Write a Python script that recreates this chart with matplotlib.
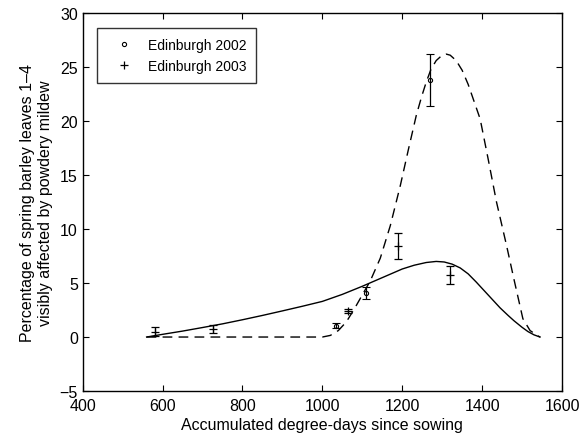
import matplotlib.pyplot as plt
from matplotlib.lines import Line2D

plt.rcParams['font.family'] = ['Liberation Sans', 'DejaVu Sans']

# observations (mean, half-width of error bar)
x_2002 = [1035, 1108, 1270]
y_2002 = [1.05, 4.1, 23.8]
e_2002 = [0.25, 0.55, 2.4]

x_2003 = [580, 725, 1065, 1190, 1320]
y_2003 = [0.5, 0.75, 2.4, 8.4, 5.75]
e_2003 = [0.45, 0.35, 0.2, 1.2, 0.8]

# fitted curves
solid_x = [560, 600, 650, 700, 750, 800, 850, 900, 950, 1000, 1050, 1100, 1150,
           1200, 1230, 1260, 1285, 1305, 1325, 1345, 1365, 1385, 1405, 1425,
           1445, 1465, 1480, 1500, 1515, 1530, 1545]
solid_y = [0.0, 0.25, 0.55, 0.88, 1.22, 1.6, 2.0, 2.42, 2.85, 3.3, 3.95, 4.7, 5.5,
           6.3, 6.65, 6.9, 7.0, 6.95, 6.75, 6.4, 5.85, 5.1, 4.3, 3.5,
           2.7, 2.0, 1.5, 0.9, 0.5, 0.2, 0.0]

dash_x = [560, 1000, 1020, 1040, 1060, 1080, 1100, 1120, 1145, 1170, 1195, 1215,
          1235, 1248, 1260, 1272, 1285, 1300, 1310, 1320, 1335, 1350, 1365, 1380,
          1395, 1415, 1436, 1461, 1480, 1502, 1520, 1540, 1545]
dash_y = [0.0, 0.0, 0.15, 0.6, 1.4, 2.6, 3.9, 5.2, 7.3, 10.3, 14.0, 17.3,
          20.5, 22.2, 23.6, 24.8, 25.6, 26.1, 26.2, 26.1, 25.6, 24.7, 23.4, 21.8,
          20.2, 16.5, 12.5, 8.5, 5.3, 1.7, 0.6, 0.1, 0.0]

fig = plt.figure(figsize=(5.85, 4.39), dpi=100)
ax = fig.add_axes([0.1414, 0.107, 0.8193, 0.861])

ax.plot(solid_x, solid_y, color='black', linewidth=1.0)
ax.plot(dash_x, dash_y, color='black', linewidth=1.0, dashes=(7, 4.5))

ax.errorbar(x_2002, y_2002, yerr=e_2002, fmt='o', color='black', markersize=3,
            markerfacecolor='none', markeredgewidth=0.8, elinewidth=0.9, capsize=3)
ax.errorbar(x_2003, y_2003, yerr=e_2003, fmt='+', color='black', markersize=6,
            markeredgewidth=0.9, elinewidth=0.9, capsize=3)

ax.set_xlim(400, 1600)
ax.set_ylim(-5, 30)
ax.set_xticks(range(400, 1601, 200))
ax.set_yticks(range(-5, 31, 5))
ax.tick_params(direction='in', top=True, right=True, labelsize=11.5, length=4)
ax.tick_params(axis='x', pad=5)
for s in ax.spines.values():
    s.set_linewidth(1.0)

ax.set_xlabel('Accumulated degree-days since sowing', fontsize=11.5, labelpad=3)
ax.set_ylabel('Percentage of spring barley leaves 1\u20134\nvisibly affected by powdery mildew',
              fontsize=11.5, labelpad=5)

handles = [Line2D([], [], ls='none', marker='o', ms=3, mfc='none', mec='black', mew=0.8),
           Line2D([], [], ls='none', marker='+', ms=6, color='black', mew=0.9)]
leg = ax.legend(handles, ['Edinburgh 2002', 'Edinburgh 2003'], loc='upper left',
                bbox_to_anchor=(0.029, 0.96), borderaxespad=0, fontsize=10,
                frameon=True, fancybox=False, edgecolor='black', handlelength=2.5,
                handletextpad=0.5, borderpad=0.7, labelspacing=0.5)
leg.get_frame().set_linewidth(1.0)

plt.savefig('out.png')
